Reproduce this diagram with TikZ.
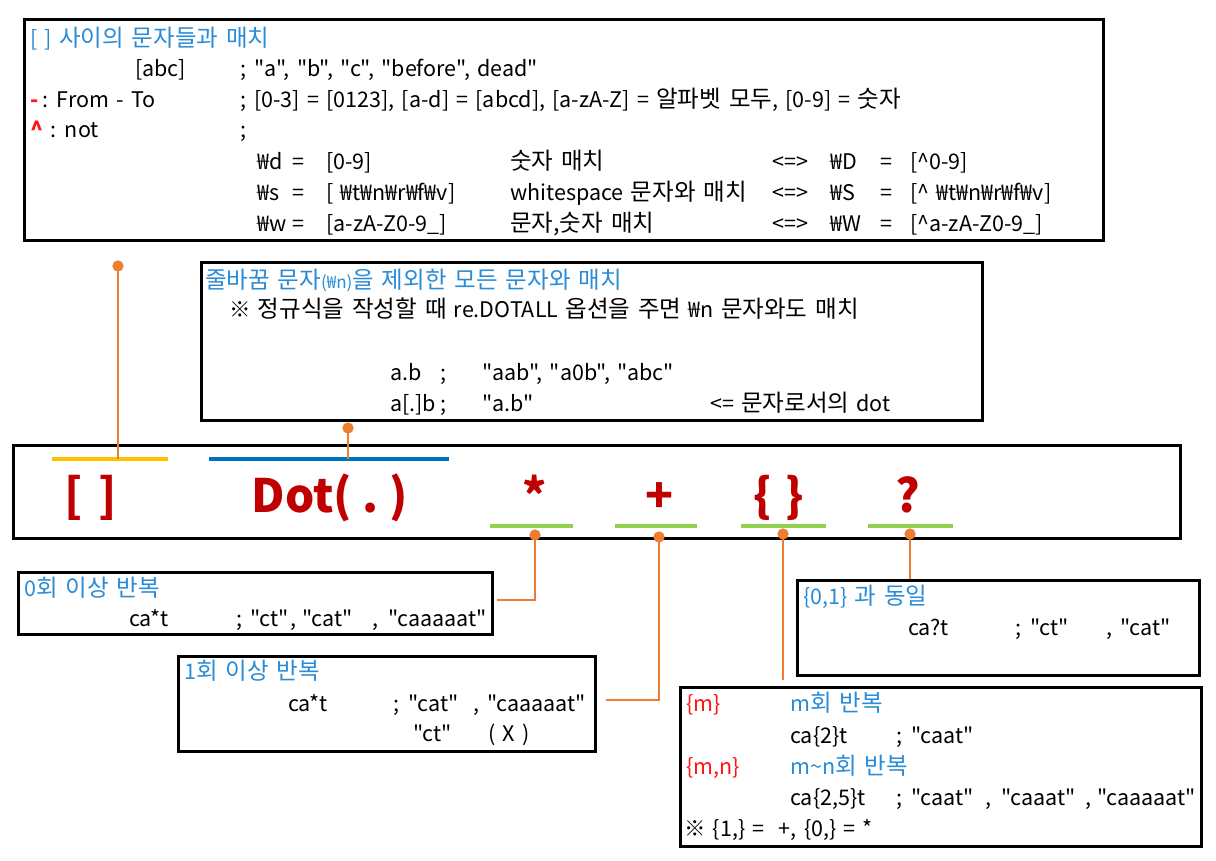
\documentclass[tikz,border=0pt]{standalone}
\usepackage{fontspec}
\setmainfont{Noto Sans CJK KR}[Ligatures=TeXOff, WordSpace=1.5]
\definecolor{hb}{RGB}{40,140,215}
\definecolor{dred}{RGB}{192,0,0}
\definecolor{rred}{RGB}{255,20,20}
\definecolor{orng}{RGB}{237,125,49}
\definecolor{yel}{RGB}{255,192,0}
\definecolor{ublue}{RGB}{0,112,192}
\definecolor{grn}{RGB}{146,208,80}
\newcommand\K[1]{{\fontsize{23.5}{28}\selectfont #1}}
\tikzset{
  box/.style={draw=black, line width=2.5pt, fill=white, anchor=north west, inner sep=0pt},
  txt/.style={inner sep=0pt, anchor=base west, font=\fontsize{21.5}{26}\selectfont},
  big/.style={inner sep=0pt, anchor=base, text=dred, font=\fontsize{46}{50}\selectfont\bfseries},
  uline/.style={line width=4pt},
  conn/.style={draw=orng, line width=2.5pt},
  dotc/.style={circle, fill=orng, inner sep=0pt, minimum size=11pt}
}
\newcommand\tx[4][black]{\node[txt,text=#1] (#2) at (#3) {#4};}
\begin{document}
\begin{tikzpicture}[x=1pt,y=-1pt]
\useasboundingbox (0,0) rectangle (1216,860);
% boxes
\node[box, minimum width=1079pt, minimum height=221pt] (topbox) at (23,18) {};
\node[box, minimum width=781pt, minimum height=158pt] (dotbox) at (200,261) {};
\node[box, minimum width=1167pt, minimum height=93pt] (strip) at (12,444) {};
\node[box, minimum width=474pt, minimum height=62pt] (zbox) at (17,571) {};
\node[box, minimum width=417pt, minimum height=95pt] (obox) at (177,655) {};
\node[box, minimum width=402pt, minimum height=95pt] (qbox) at (796,579) {};
\node[box, minimum width=521pt, minimum height=159pt] (mbox) at (679,686) {};
% underlines
\coordinate (ya) at (52,459); \coordinate (yb) at (168,459);
\coordinate (ba) at (209,459); \coordinate (bb) at (449,459);
\coordinate (g1a) at (490,526); \coordinate (g1b) at (573,526);
\coordinate (g2a) at (615,526); \coordinate (g2b) at (697,526);
\coordinate (g3a) at (741,526); \coordinate (g3b) at (826,526);
\coordinate (g4a) at (868,526); \coordinate (g4b) at (953,526);
\draw[uline, yel] (ya) -- (yb);
\draw[uline, ublue] (ba) -- (bb);
\draw[uline, grn] (g1a) -- (g1b);
\draw[uline, grn] (g2a) -- (g2b);
\draw[uline, grn] (g3a) -- (g3b);
\draw[uline, grn] (g4a) -- (g4b);
% connectors
\node[dotc] (c1) at (118,266) {};
\node[dotc] (c2) at (348,428) {};
\node[dotc] (c3) at (535,535) {};
\node[dotc] (c4) at (659,537) {};
\node[dotc] (c5) at (783,534) {};
\node[dotc] (c6) at (910,534) {};
\coordinate (e3) at (497,600);
\coordinate (e4) at (606,700);
\draw[conn] (c1.center) -- (c1.center |- ya);
\draw[conn] (c2.center) -- (c2.center |- ba);
\draw[conn] (c3.center) |- (e3);
\draw[conn] (c4.center) |- (e4);
\draw[conn] (c5.center) -- ([yshift=6pt]c5.center |- mbox.north);
\draw[conn] (c6.center) -- (c6.center |- qbox.north);
\node[dotc] at (c1) {};
\node[dotc] at (c2) {};
\node[dotc] at (c3) {};
\node[dotc] at (c4) {};
\node[dotc] at (c5) {};
\node[dotc] at (c6) {};
% big symbols
\node[big] (b1) at (91,512) {[\hspace{16pt}]};
\node[big] (b2) at (330,512) {Dot(\hspace{11pt}.\hspace{11pt})};
\node[big] (b3) at (535,512) {*};
\node[big] (b4) at (659,512) {+};
\node[big] (b5) at (779,512) {\{\hspace{14pt}\}};
\node[big] (b6) at (908,512) {?};
% top box text
\tx[hb]{t11}{30,46}{[ ] \K{사이의 문자들과 매치}}
\tx{t21}{135,76}{[abc]}
\tx{t22}{240,76}{;\hspace{8pt}"a", "b", "c", "before", dead"}
\tx[rred]{t31}{30,107}{\bfseries -}
\tx{t32}{42,107}{: From - To}
\tx{t33}{240,107}{;\hspace{8pt}[0-3] = [0123], [a-d] = [abcd], [a-zA-Z] = \K{알파벳 모두}, [0-9] = \K{숫자}}
\tx[rred]{t41}{30,137}{\bfseries\textasciicircum}
\tx{t42}{50,137}{: not}
\tx{t43}{240,137}{;}
\tx{t51}{257,169}{₩d}
\tx{t52}{292,169}{=}
\tx{t53}{326,169}{[0-9]}
\tx{t54}{510,169}{\K{숫자 매치}}
\tx{t55}{772,169}{<=>}
\tx{t56}{830,169}{₩D}
\tx{t57}{880,169}{=}
\tx{t58}{910,169}{[\textasciicircum 0-9]}
\tx{t61}{257,200}{₩s}
\tx{t62}{292,200}{=}
\tx{t63}{326,200}{[ ₩t₩n₩r₩f₩v]}
\tx{t64}{510,200}{whitespace \K{문자와 매치}}
\tx{t65}{772,200}{<=>}
\tx{t66}{830,200}{₩S}
\tx{t67}{880,200}{=}
\tx{t68}{910,200}{[\textasciicircum\ ₩t₩n₩r₩f₩v]}
\tx{t71}{257,231}{₩w}
\tx{t72}{292,231}{=}
\tx{t73}{326,231}{[a-zA-Z0-9\_]}
\tx{t74}{510,231}{\K{문자,숫자 매치}}
\tx{t75}{772,231}{<=>}
\tx{t76}{830,231}{₩W}
\tx{t77}{880,231}{=}
\tx{t78}{910,231}{[\textasciicircum a-zA-Z0-9\_]}
% dot box text
\tx[hb]{d1}{205,288}{\K{줄바꿈 문자}{\fontsize{17}{18}\selectfont(₩n)}\K{을 제외한 모든 문자와 매치}}
\tx{d2}{229,317}{※ \K{정규식을 작성할 때} re.DOTALL \K{옵션을 주면} ₩n \K{문자와도 매치}}
\tx{d3}{390,380}{a.b}
\tx{d4}{440,380}{;}
\tx{d5}{482,380}{"aab", "a0b", "abc"}
\tx{d6}{390,411}{a[.]b}
\tx{d7}{440,411}{;}
\tx{d8}{482,411}{"a.b"}
\tx{d9}{710,411}{<= \K{문자로서의} dot}
% 0 box
\tx[hb]{z1}{24,596}{0\K{회 이상 반복}}
\tx{z2}{129,626}{ca*t}
\tx{z3}{236,626}{;}
\tx{z4}{250,626}{"ct"}
\tx{z5}{290,626}{,}
\tx{z6}{302,626}{"cat"}
\tx{z7}{372,626}{,}
\tx{z8}{388,626}{"caaaaat"}
% 1 box
\tx[hb]{o1}{184,679}{1\K{회 이상 반복}}
\tx{o2}{288,711}{ca*t}
\tx{o3}{393,711}{;}
\tx{o4}{408,711}{"cat"}
\tx{o5}{473,711}{,}
\tx{o6}{487,711}{"caaaaat"}
\tx{o7}{413,741}{"ct"}
\tx{o8}{488,741}{( X )}
% {0,1} box
\tx[hb]{q1}{803,604}{\{0,1\} \K{과 동일}}
\tx{q2}{908,635}{ca?t}
\tx{q3}{1015,635}{;}
\tx{q4}{1030,635}{"ct"}
\tx{q5}{1106,635}{,}
\tx{q6}{1120,635}{"cat"}
% {m} box
\tx[rred]{m1}{686,711}{\{m\}}
\tx[hb]{m2}{790,711}{m\K{회 반복}}
\tx{m3}{790,743}{ca\{2\}t}
\tx{m4}{896,743}{;}
\tx{m5}{911,743}{"caat"}
\tx[rred]{m6}{686,774}{\{m,n\}}
\tx[hb]{m7}{790,774}{m\textasciitilde n\K{회 반복}}
\tx{m8}{790,805}{ca\{2,5\}t}
\tx{m9}{896,805}{;}
\tx{m10}{911,805}{"caat"}
\tx{m11}{985,805}{,}
\tx{m12}{1001,805}{"caaat"}
\tx{m13}{1085,805}{,}
\tx{m14}{1097,805}{"caaaaat"}
\tx{m15}{684,836}{※ \{1,\} = \ +, \{0,\} = *}
\end{tikzpicture}
\end{document}
